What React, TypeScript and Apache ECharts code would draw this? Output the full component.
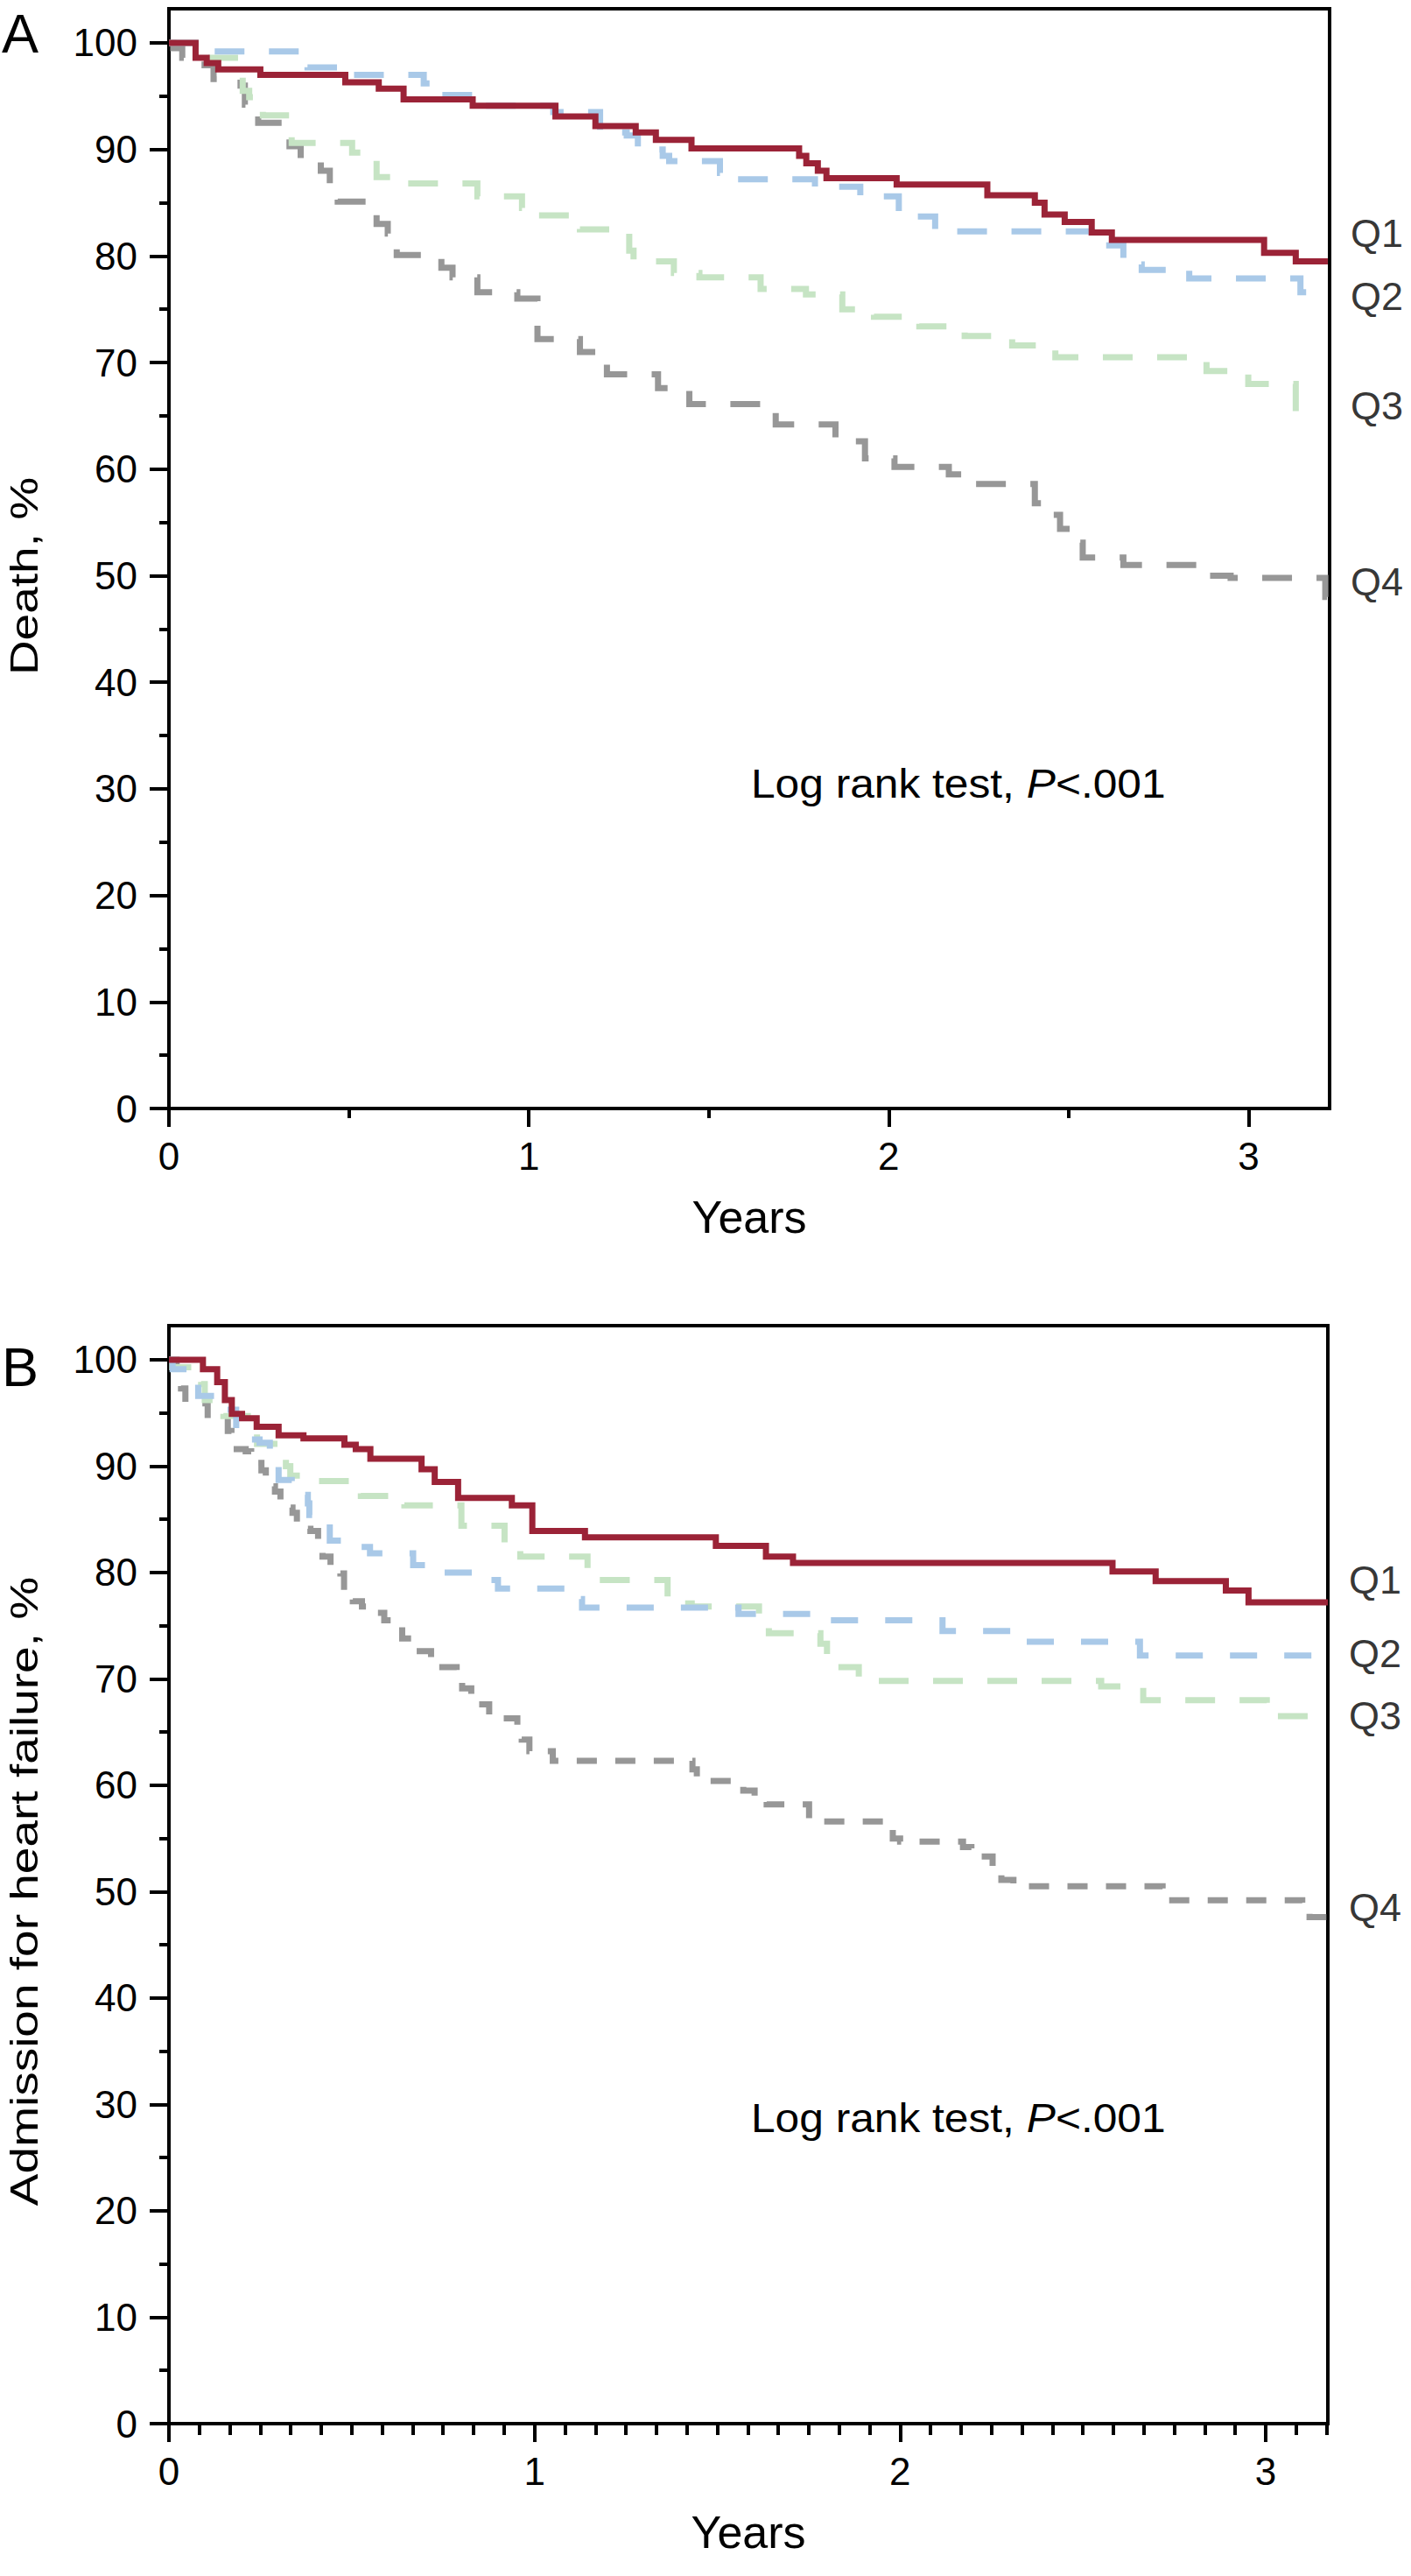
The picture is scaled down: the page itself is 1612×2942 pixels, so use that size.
import React, { useEffect, useRef } from 'react';
import * as echarts from 'echarts';

// Panel A: death (time in years, survival %)
const deathQ1 = [[0,100],[0.074,98.6],[0.105,98.1],[0.137,97.5],[0.254,97.0],[0.49,96.3],[0.583,95.7],[0.652,94.7],[0.844,94.1],[1.074,93.1],[1.185,92.2],[1.297,91.6],[1.353,90.9],[1.452,90.1],[1.751,89.4],[1.771,88.7],[1.803,88.0],[1.827,87.3],[2.022,86.7],[2.274,85.7],[2.406,85.0],[2.433,83.9],[2.489,83.2],[2.564,82.2],[2.62,81.5],[3.043,80.3],[3.131,79.5],[3.22,79.5]];
const deathQ2 = [[0,100],[0.1,99.2],[0.385,97.7],[0.497,97.0],[0.708,96.2],[0.751,95.1],[0.875,94.1],[1.068,93.5],[1.198,91.6],[1.272,91.3],[1.303,90.0],[1.372,89.4],[1.39,88.9],[1.531,87.8],[1.575,87.2],[1.795,86.5],[1.921,85.6],[2.028,83.7],[2.129,82.3],[2.564,81.0],[2.652,79.2],[2.703,78.7],[2.835,77.9],[3.144,76.6],[3.22,76.6]];
const deathQ3 = [[0,100],[0.093,98.6],[0.205,95.5],[0.223,94.9],[0.261,93.2],[0.341,90.6],[0.509,89.7],[0.577,87.4],[0.64,86.8],[0.857,85.6],[0.981,84.5],[1.018,83.8],[1.142,82.5],[1.279,80.5],[1.291,79.5],[1.403,78.4],[1.474,78.0],[1.644,76.9],[1.77,76.4],[1.871,75.0],[1.959,74.3],[2.085,73.4],[2.211,72.5],[2.343,71.6],[2.463,70.5],[2.883,69.2],[2.999,68.0],[3.131,64.5],[3.16,64.5]];
const deathQ4 = [[0,100],[0.012,99.5],[0.037,98.6],[0.099,97.9],[0.124,96.6],[0.199,96.0],[0.211,94.2],[0.248,92.5],[0.335,90.3],[0.366,89.1],[0.422,88.0],[0.447,86.7],[0.469,85.1],[0.577,83.0],[0.608,82.1],[0.633,80.1],[0.757,78.9],[0.788,78.0],[0.857,76.6],[0.968,76.0],[1.024,72.2],[1.142,71.0],[1.185,70.0],[1.217,68.9],[1.359,67.6],[1.446,66.1],[1.686,64.2],[1.852,62.6],[1.934,61.0],[2.016,60.2],[2.167,59.5],[2.224,58.6],[2.406,56.8],[2.438,55.7],[2.476,54.4],[2.507,53.1],[2.539,51.7],[2.652,51.0],[2.873,50.0],[2.95,49.8],[3.213,48.0],[3.225,48.0]];

// Panel B: admission for heart failure
const hfQ1 = [[0,100],[0.093,99.1],[0.132,97.9],[0.153,96.2],[0.172,94.9],[0.2,94.5],[0.24,93.7],[0.3,92.9],[0.368,92.6],[0.48,92.0],[0.511,91.6],[0.551,90.7],[0.691,89.7],[0.727,88.5],[0.791,87.0],[0.938,86.3],[0.994,83.9],[1.138,83.3],[1.496,82.5],[1.633,81.5],[1.707,80.9],[2.581,80.1],[2.699,79.2],[2.891,78.3],[2.953,77.2],[3.17,77.2]];
const hfQ2 = [[0,100],[0.01,99.1],[0.05,98.3],[0.08,96.6],[0.115,95.3],[0.184,92.5],[0.248,92.2],[0.276,90.5],[0.3,88.7],[0.336,87.3],[0.38,86.5],[0.384,85.4],[0.44,83.0],[0.48,82.4],[0.55,81.8],[0.668,80.7],[0.715,80.0],[0.847,79.3],[0.9,78.5],[1.086,77.5],[1.13,76.7],[1.558,76.1],[1.788,75.5],[2.116,74.5],[2.339,73.5],[2.656,72.2],[3.17,72.2]];
const hfQ3 = [[0,100],[0.009,99.3],[0.088,97.7],[0.098,96.2],[0.149,94.7],[0.241,92.1],[0.32,90.0],[0.332,89.1],[0.4,88.6],[0.525,87.2],[0.644,86.3],[0.8,84.4],[0.918,82.8],[0.961,81.5],[1.145,79.9],[1.187,79.3],[1.364,77.1],[1.43,76.8],[1.614,75.3],[1.641,74.3],[1.782,73.3],[1.8,71.1],[1.887,69.8],[2.55,69.3],[2.665,68.0],[3.003,66.5],[3.17,66.5]];
const hfQ4 = [[0,100],[0.021,99.2],[0.033,97.3],[0.045,95.9],[0.106,94.4],[0.161,93.3],[0.171,91.6],[0.21,91.4],[0.225,90.3],[0.253,89.6],[0.265,88.1],[0.29,87.6],[0.305,86.1],[0.338,85.6],[0.35,84.1],[0.387,83.9],[0.408,82.8],[0.42,81.5],[0.442,80.4],[0.469,79.9],[0.479,78.2],[0.503,77.3],[0.528,76.8],[0.558,76.2],[0.589,75.5],[0.625,74.9],[0.638,73.8],[0.664,72.6],[0.717,71.1],[0.787,70.2],[0.802,69.1],[0.827,68.1],[0.857,67.6],[0.876,66.3],[0.953,65.6],[0.965,64.3],[0.986,63.2],[1.05,62.3],[1.432,61.5],[1.444,60.4],[1.571,59.5],[1.602,58.8],[1.635,58.2],[1.751,56.9],[1.78,56.6],[1.98,55.0],[2.0,54.7],[2.172,54.2],[2.195,53.3],[2.253,52.0],[2.277,51.1],[2.31,50.5],[2.718,49.2],[3.1,48.9],[3.12,47.6],[3.17,47.6]];

// group labels at the right edge (y in %)
const groupNames = ['Q1', 'Q2', 'Q3', 'Q4'];
const deathLabelY = [82.1, 76.2, 65.9, 49.4];
const hfLabelY = [79.3, 72.4, 66.5, 48.5];

// ticks
const yMajor = [0, 10, 20, 30, 40, 50, 60, 70, 80, 90, 100];
const yMinor = [5, 15, 25, 35, 45, 55, 65, 75, 85, 95];
const xMajor = [0, 1, 2, 3];
const xMinorA = [0.5, 1.5, 2.5];
const X_MAX_A = 3.225;
const X_MAX_B = 3.17;
const Y_MAX = 103.2;
const xMinorB: number[] = [];
for (let m = 1; m / 12 <= X_MAX_B; m++) if (m % 12 !== 0) xMinorB.push(m / 12);

const FONT = '"Liberation Sans", Arial, Helvetica, sans-serif';
const BLACK = '#000';
const colors = ['#9b2337', '#a9c9e8', '#c6e4c4', '#979797'];
const dashA = ['solid', [34, 28], [34, 28], [34, 28]];
const dashB = ['solid', [31, 31], [34, 28], [23, 21]];

const lineW = { color: BLACK, width: 4 };

const mainX = (gridIndex, max, name) => ({
  gridIndex, type: 'value', min: 0, max, position: 'bottom',
  axisLine: { show: true, lineStyle: lineW },
  axisTick: { show: true, length: 21, lineStyle: lineW, customValues: xMajor },
  axisLabel: { customValues: xMajor, fontSize: 44, color: BLACK, fontFamily: FONT, margin: 32 },
  splitLine: { show: false },
  name, nameLocation: 'middle', nameGap: 98,
  nameTextStyle: { fontSize: 52, color: BLACK, fontFamily: FONT },
});
const minorX = (gridIndex, max, ticks, len) => ({
  gridIndex, type: 'value', min: 0, max, position: 'bottom',
  axisLine: { show: false },
  axisTick: { show: true, length: len, lineStyle: lineW, customValues: ticks },
  axisLabel: { show: false },
  splitLine: { show: false },
});
const mainY = (gridIndex) => ({
  gridIndex, type: 'value', min: 0, max: Y_MAX, position: 'left',
  axisLine: { show: true, lineStyle: lineW },
  axisTick: { show: true, length: 22, lineStyle: lineW, customValues: yMajor },
  axisLabel: { customValues: yMajor, fontSize: 44, color: BLACK, fontFamily: FONT, margin: 36 },
  splitLine: { show: false },
});
const minorY = (gridIndex) => ({
  gridIndex, type: 'value', min: 0, max: Y_MAX, position: 'left', offset: 0,
  axisLine: { show: false },
  axisTick: { show: true, length: 11, lineStyle: lineW, customValues: yMinor },
  axisLabel: { show: false },
  splitLine: { show: false },
});

const curves = (sets, dashes, xi, yi) =>
  sets.map((data, i) => ({ i, data })).reverse().map(({ i, data }) => ({
    type: 'line', name: groupNames[i], xAxisIndex: xi, yAxisIndex: yi,
    data, step: 'end', showSymbol: false, symbol: 'none', silent: true,
    lineStyle: { color: colors[i], width: 7, type: dashes[i], cap: 'butt', join: 'miter' },
  }));

const groupLabels = (xMax, ys, xi, yi) => ({
  type: 'scatter', xAxisIndex: xi, yAxisIndex: yi, symbolSize: 0, silent: true, clip: false,
  data: ys.map((y, i) => ({ value: [xMax, y], name: groupNames[i] })),
  label: {
    show: true, position: 'right', distance: 24, formatter: '{b}',
    fontSize: 45, color: BLACK, fontFamily: FONT,
  },
});

// rotated y-axis title, stretched along its length like the original figure
const yTitle = (text, cy) => ({
  type: 'text', x: 28, y: cy, rotation: Math.PI / 2, scaleX: 1.25,
  style: { text, fontSize: 44, fill: BLACK, fontFamily: FONT, align: 'center', verticalAlign: 'middle' },
});

const logRank = (y) => ({
  type: 'text', x: 858, y, scaleX: 1.08,
  style: {
    text: 'Log rank test, {i|P}<.001',
    fontSize: 46, fill: BLACK, fontFamily: FONT, verticalAlign: 'middle',
    rich: { i: { fontStyle: 'italic', fontSize: 46, fontFamily: FONT, fill: BLACK } },
  },
});

const App = () => {
  const ref = useRef(null);

  useEffect(() => {
    if (!ref.current) return;
    const chart = echarts.init(ref.current, null, { renderer: 'svg' });
    chart.setOption({
      animation: false,
      backgroundColor: '#fff',
      grid: [
        { left: 193, top: 10, right: 93, bottom: 1676, show: true, borderColor: BLACK, borderWidth: 4 },
        { left: 193, top: 1514, right: 95, bottom: 174, show: true, borderColor: BLACK, borderWidth: 4 },
      ],
      xAxis: [
        mainX(0, X_MAX_A, 'Years'),
        minorX(0, X_MAX_A, xMinorA, 11),
        mainX(1, X_MAX_B, 'Years'),
        minorX(1, X_MAX_B, xMinorB, 13),
      ],
      yAxis: [mainY(0), minorY(0), mainY(1), minorY(1)],
      series: [
        ...curves([deathQ1, deathQ2, deathQ3, deathQ4], dashA, 0, 0),
        ...curves([hfQ1, hfQ2, hfQ3, hfQ4], dashB, 2, 2),
        groupLabels(X_MAX_A, deathLabelY, 0, 0),
        groupLabels(X_MAX_B, hfLabelY, 2, 2),
      ],
      graphic: [
        { type: 'text', left: 2, top: 6, style: { text: 'A', fontSize: 63, fill: BLACK, fontFamily: FONT } },
        { type: 'text', left: 2, top: 1529, style: { text: 'B', fontSize: 63, fill: BLACK, fontFamily: FONT } },
        yTitle('Death, %', 658),
        yTitle('Admission for heart failure, %', 2160),
        logRank(895),
        logRank(2419),
      ],
    });
    return () => {
      chart.dispose();
    };
  }, []);

  return (
    <div
      ref={ref}
      style={{ position: 'absolute', left: 0, top: 0, width: 1612, height: 2942, background: '#fff' }}
    />
  );
};

export default App;
